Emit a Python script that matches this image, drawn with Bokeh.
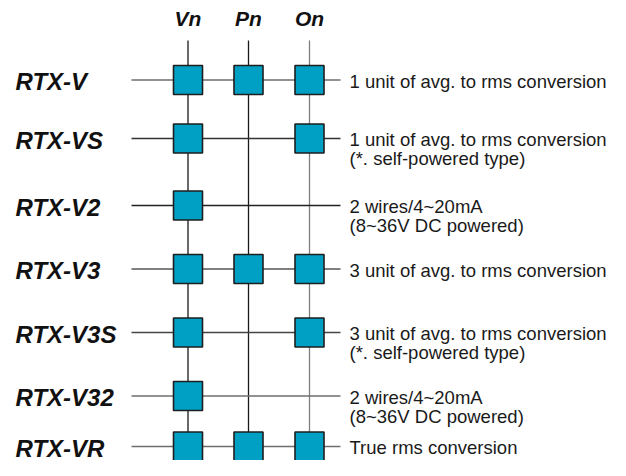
from bokeh.plotting import figure
from bokeh.models import Range1d
from bokeh.core.properties import value
from bokeh.embed import file_html
from bokeh.resources import INLINE

# ---- data ----
models = ["RTX-V", "RTX-VS", "RTX-V2", "RTX-V3", "RTX-V3S", "RTX-V32", "RTX-VR"]
columns = ["Vn", "Pn", "On"]
has_vn = [1, 1, 1, 1, 1, 1, 1]
has_pn = [1, 0, 0, 1, 0, 0, 1]
has_on = [1, 1, 0, 1, 1, 0, 1]
desc_line1 = ["1 unit of avg. to rms conversion",
              "1 unit of avg. to rms conversion",
              "2 wires/4~20mA",
              "3 unit of avg. to rms conversion",
              "3 unit of avg. to rms conversion",
              "2 wires/4~20mA",
              "True rms conversion"]
desc_line2 = ["", "(*. self-powered type)", "(8~36V DC powered)", "",
              "(*. self-powered type)", "(8~36V DC powered)", ""]

# ---- layout (pixel-like coordinates) ----
col_x = [187.5, 248, 309]
row_y = [79.5, 138, 205, 268.5, 332, 395.5, 446]
line_left, line_right = 131, 340
top_y = 40
W, H = 610, 460

p = figure(width=W, height=H, output_backend="svg", toolbar_location=None,
           x_range=Range1d(0, W), y_range=Range1d(H, 0),
           x_axis_type=None, y_axis_type=None, min_border=0)
p.grid.visible = False
p.outline_line_color = None
p.background_fill_color = "white"

font = value("Liberation Sans")

# vertical lines
vcolors = ["#1a1a1a", "#1a1a1a", "#7f7f7f"]
p.segment(x0=col_x, y0=[top_y] * 3, x1=col_x, y1=[row_y[-1]] * 3,
          line_color=vcolors, line_width=1.3)

# horizontal lines
hcolors = ["#6e6e6e", "#333333", "#222222", "#555555", "#444444", "#6e6e6e", "#6e6e6e"]
p.segment(x0=[line_left] * len(row_y), y0=row_y, x1=[line_right] * len(row_y), y1=row_y,
          line_color=hcolors, line_width=1.3)

# squares
sx, sy = [], []
flags = [has_vn, has_pn, has_on]
for ci, fl in enumerate(flags):
    for ri, f in enumerate(fl):
        if f:
            sx.append(col_x[ci])
            sy.append(row_y[ri])
p.rect(x=sx, y=sy, width=29, height=29, fill_color="#009FC4",
       line_color="#1e1e1e", line_width=1.6)

# headers
p.text(x=col_x, y=[18] * 3, text=columns, text_font=font,
       text_font_style="bold italic", text_font_size="21px",
       text_align="center", text_baseline="middle", text_color="#111111")

# model labels
p.text(x=[15] * len(models), y=[y + 1.5 for y in row_y], text=models, text_font=font,
       text_font_style="bold italic", text_font_size="24px",
       text_align="left", text_baseline="middle", text_color="#111111")

# descriptions
p.text(x=[349] * len(desc_line1), y=[y + 1 for y in row_y], text=desc_line1, text_font=font,
       text_font_size="18.5px", text_align="left", text_baseline="middle",
       text_color="#1a1a1a")
p.text(x=[349] * len(desc_line2), y=[y + 20 for y in row_y], text=desc_line2, text_font=font,
       text_font_size="18.5px", text_align="left", text_baseline="middle",
       text_color="#1a1a1a")

open("out.html", "w").write(file_html(p, INLINE))
